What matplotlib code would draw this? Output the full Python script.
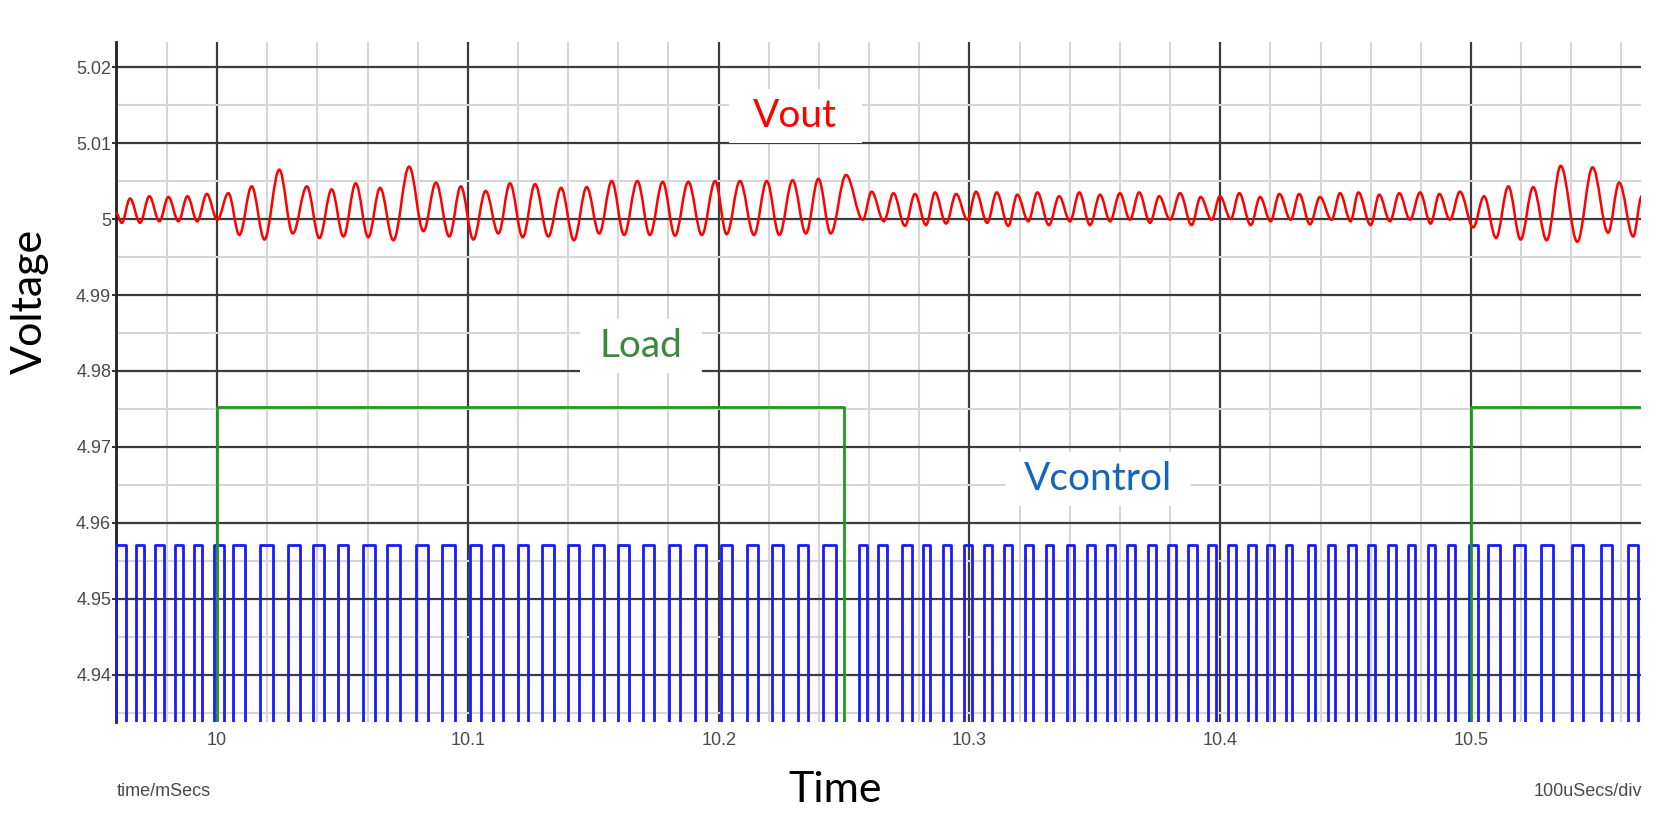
import matplotlib
matplotlib.use('Agg')
import matplotlib.pyplot as plt
from matplotlib.path import Path
from matplotlib.patches import PathPatch, Rectangle

# ---------------- data ----------------
vout_t = [9.9597, 9.9620, 9.9653, 9.9693, 9.9730, 9.9770, 9.9806, 9.9846, 9.9882, 9.9921,
          9.9959, 10.0001, 10.0045, 10.0089, 10.0138, 10.0189, 10.0248, 10.0302, 10.0358, 10.0408,
          10.0457, 10.0504, 10.0553, 10.0603, 10.0650, 10.0703, 10.0766, 10.0823, 10.0873, 10.0926,
          10.0972, 10.1022, 10.1071, 10.1122, 10.1168, 10.1219, 10.1268, 10.1321, 10.1372, 10.1423,
          10.1474, 10.1524, 10.1574, 10.1623, 10.1676, 10.1726, 10.1777, 10.1826, 10.1879, 10.1933,
          10.1986, 10.2032, 10.2085, 10.2141, 10.2192, 10.2242, 10.2295, 10.2348, 10.2398, 10.2447,
          10.2508, 10.2575, 10.2610, 10.2659, 10.2697, 10.2743, 10.2783, 10.2827, 10.2863, 10.2907,
          10.2947, 10.2992, 10.3026, 10.3071, 10.3109, 10.3155, 10.3191, 10.3235, 10.3271, 10.3317,
          10.3358, 10.3401, 10.3438, 10.3481, 10.3521, 10.3561, 10.3600, 10.3640, 10.3677, 10.3720,
          10.3757, 10.3800, 10.3840, 10.3886, 10.3922, 10.3966, 10.3999, 10.4042, 10.4076, 10.4122,
          10.4159, 10.4201, 10.4236, 10.4281, 10.4315, 10.4358, 10.4398, 10.4444, 10.4478, 10.4520,
          10.4551, 10.4600, 10.4634, 10.4677, 10.4714, 10.4757, 10.4797, 10.4839, 10.4874, 10.4916,
          10.4956, 10.5009, 10.5052, 10.5100, 10.5149, 10.5198, 10.5248, 10.5302, 10.5358, 10.5424,
          10.5485, 10.5547, 10.5591, 10.5647, 10.5681]
vout_v = [5.0008, 4.9995, 5.0027, 4.9995, 5.0030, 4.9997, 5.0029, 4.9997, 5.0030, 4.9997,
          5.0033, 4.9999, 5.0034, 4.9979, 5.0043, 4.9973, 5.0065, 4.9981, 5.0043, 4.9975,
          5.0039, 4.9977, 5.0047, 4.9976, 5.0041, 4.9972, 5.0069, 4.9984, 5.0048, 4.9977,
          5.0043, 4.9973, 5.0037, 4.9981, 5.0047, 4.9976, 5.0046, 4.9977, 5.0041, 4.9972,
          5.0042, 4.9981, 5.0050, 4.9979, 5.0050, 4.9979, 5.0049, 4.9978, 5.0049, 4.9979,
          5.0050, 4.9980, 5.0050, 4.9979, 5.0050, 4.9979, 5.0051, 4.9981, 5.0053, 4.9981,
          5.0058, 4.9999, 5.0036, 4.9997, 5.0034, 4.9991, 5.0033, 4.9992, 5.0035, 4.9994,
          5.0033, 4.9999, 5.0036, 4.9995, 5.0035, 4.9991, 5.0032, 4.9997, 5.0035, 4.9992,
          5.0030, 4.9997, 5.0035, 4.9992, 5.0032, 4.9997, 5.0034, 4.9999, 5.0035, 4.9995,
          5.0030, 4.9999, 5.0034, 4.9992, 5.0029, 4.9999, 5.0030, 5.0000, 5.0034, 4.9992,
          5.0029, 4.9997, 5.0033, 4.9999, 5.0033, 4.9993, 5.0029, 4.9999, 5.0034, 4.9997,
          5.0035, 4.9992, 5.0032, 4.9997, 5.0034, 4.9999, 5.0035, 4.9994, 5.0033, 4.9999,
          5.0036, 4.9989, 5.0030, 4.9975, 5.0043, 4.9973, 5.0042, 4.9972, 5.0070, 4.9970,
          5.0068, 4.9982, 5.0048, 4.9977, 5.0030]

ctrl_rise = [9.9598, 9.9677, 9.9753, 9.9833, 9.9908, 9.9988, 10.0064, 10.0171, 10.0283, 10.0383,
             10.0482, 10.0582, 10.0678, 10.0793, 10.0897, 10.1009, 10.1100, 10.1200, 10.1296, 10.1400,
             10.1499, 10.1599, 10.1699, 10.1802, 10.1906, 10.2010, 10.2113, 10.2213, 10.2317, 10.2416,
             10.2560, 10.2636, 10.2731, 10.2815, 10.2895, 10.2978, 10.3058, 10.3138, 10.3222, 10.3305,
             10.3389, 10.3469, 10.3549, 10.3628, 10.3712, 10.3792, 10.3872, 10.3951, 10.4031, 10.4111,
             10.4187, 10.4262, 10.4350, 10.4430, 10.4510, 10.4589, 10.4669, 10.4749, 10.4828, 10.4908,
             10.4992, 10.5068, 10.5171, 10.5279, 10.5403, 10.5518, 10.5626]
ctrl_fall = [9.9637, 9.9709, 9.9789, 9.9864, 9.9940, 10.0028, 10.0112, 10.0223, 10.0331, 10.0427,
             10.0522, 10.0630, 10.0730, 10.0841, 10.0949, 10.1053, 10.1140, 10.1240, 10.1344, 10.1443,
             10.1543, 10.1643, 10.1742, 10.1846, 10.1950, 10.2053, 10.2157, 10.2257, 10.2356, 10.2468,
             10.2592, 10.2671, 10.2771, 10.2843, 10.2927, 10.3010, 10.3090, 10.3170, 10.3254, 10.3333,
             10.3417, 10.3501, 10.3581, 10.3660, 10.3744, 10.3824, 10.3907, 10.3983, 10.4063, 10.4143,
             10.4214, 10.4286, 10.4378, 10.4458, 10.4541, 10.4617, 10.4701, 10.4777, 10.4856, 10.4936,
             10.5028, 10.5116, 10.5215, 10.5327, 10.5447, 10.5562, 10.5666]
ctrl_high = 4.9571
ctrl_low = 4.925

load_edges = [10.0, 10.25, 10.5]
load_high = 4.9753
load_low = 4.925

x_range = [9.9597, 10.5678]
y_range = [4.9338, 5.0233]
x_ticks = [10.0, 10.1, 10.2, 10.3, 10.4, 10.5]
x_tick_labels = ['10', '10.1', '10.2', '10.3', '10.4', '10.5']
y_ticks = [4.94, 4.95, 4.96, 4.97, 4.98, 4.99, 5.00, 5.01, 5.02]
y_tick_labels = ['4.94', '4.95', '4.96', '4.97', '4.98', '4.99', '5', '5.01', '5.02']
x_minor = [9.96, 9.98, 10.02, 10.04, 10.06, 10.08, 10.12, 10.14, 10.16, 10.18,
           10.22, 10.24, 10.26, 10.28, 10.32, 10.34, 10.36, 10.38, 10.42, 10.44,
           10.46, 10.48, 10.52, 10.54, 10.56]
y_minor = [4.935, 4.945, 4.955, 4.965, 4.975, 4.985, 4.995, 5.005, 5.015]

series_labels = ['Vout', 'Load', 'Vcontrol']

# ---------------- figure ----------------
W, H = 1668, 819
fig = plt.figure(figsize=(W / 100, H / 100), dpi=100)
fig.patch.set_facecolor('white')
ax = fig.add_axes([116 / W, (H - 722) / H, 1525 / W, 680 / H])
ax.set_xlim(*x_range)
ax.set_ylim(*y_range)

tick_font = ['Liberation Sans Narrow', 'Liberation Sans', 'DejaVu Sans']
label_font = ['Lato', 'DejaVu Sans']

ax.set_xticks(x_ticks)
ax.set_xticklabels(x_tick_labels, family=tick_font, fontsize=13, color='#4a4a4a')
ax.set_yticks(y_ticks)
ax.set_yticklabels(y_tick_labels, family=tick_font, fontsize=13, color='#4a4a4a')
ax.set_xticks(x_minor, minor=True)
ax.set_yticks(y_minor, minor=True)
ax.tick_params(axis='x', which='both', length=0, pad=7)
ax.tick_params(axis='y', which='major', length=3, width=1.4, color='#333333', pad=0.5)
ax.tick_params(axis='y', which='minor', length=0)

ax.set_axisbelow(True)
ax.grid(which='minor', color='#d6d6d6', linewidth=1.5)
ax.grid(which='major', color='#3c3c3c', linewidth=1.6)

for s in ['top', 'right', 'bottom']:
    ax.spines[s].set_visible(False)
ax.spines['left'].set_linewidth(2.0)
ax.spines['left'].set_color('#222222')

# Vcontrol pulse train
cx = [x_range[0] - 0.01]
cy = [ctrl_low]
for r, f in zip(ctrl_rise, ctrl_fall):
    cx += [r, f]
    cy += [ctrl_high, ctrl_low]
cx.append(x_range[1] + 0.01)
cy.append(ctrl_low)
ax.plot(cx, cy, drawstyle='steps-post', color='#1a1aff', linewidth=2.0, zorder=3)

# Load step
lx = [x_range[0] - 0.01] + load_edges + [x_range[1] + 0.01]
ly = [load_low, load_high, load_low, load_high, load_high]
ax.plot(lx, ly, drawstyle='steps-post', color='#1e9a1e', linewidth=2.0, zorder=4)

# Vout ripple: smooth curve through the read extrema (horizontal tangents at extrema)
verts = [(vout_t[0], vout_v[0])]
codes = [Path.MOVETO]
k = 0.36
for i in range(1, len(vout_t)):
    t0, v0 = vout_t[i - 1], vout_v[i - 1]
    t1, v1 = vout_t[i], vout_v[i]
    dt = t1 - t0
    verts += [(t0 + k * dt, v0), (t1 - k * dt, v1), (t1, v1)]
    codes += [Path.CURVE4, Path.CURVE4, Path.CURVE4]
ax.add_patch(PathPatch(Path(verts, codes), facecolor='none', edgecolor='#ff0000',
                       linewidth=1.8, zorder=5))

# in-plot labels on white boxes (box sizes in pixels)
def plot_label(cxp, cyp, bw, bh, txt, color):
    ax.add_patch(Rectangle(((cxp - bw / 2) / W, 1 - (cyp + bh / 2) / H), bw / W, bh / H,
                           transform=fig.transFigure, facecolor='white', edgecolor='none',
                           zorder=2))
    ax.text(cxp / W, 1 - cyp / H, txt, color=color, fontsize=28, family=label_font,
            ha='center', va='center', zorder=6, transform=fig.transFigure)

plot_label(795, 116, 133, 54, series_labels[0], '#ff0000')
plot_label(641, 346, 122, 54, series_labels[1], '#3b8a3b')
plot_label(1098, 479, 186, 54, series_labels[2], '#1565c0')

# axis titles and annotations
fig.text(30 / W, 1 - 301 / H, 'Voltage', rotation=90, fontsize=31, family=label_font,
         ha='center', va='center', color='black')
fig.text(835 / W, 1 - 790 / H, 'Time', fontsize=31, family=label_font,
         ha='center', va='center', color='black')
fig.text(117 / W, 1 - 792 / H, 'time/mSecs', fontsize=13, family=tick_font,
         ha='left', va='center', color='#4a4a4a')
fig.text(1642 / W, 1 - 792 / H, '100uSecs/div', fontsize=13, family=tick_font,
         ha='right', va='center', color='#4a4a4a')

fig.savefig('out.png', dpi=100, facecolor='white')
